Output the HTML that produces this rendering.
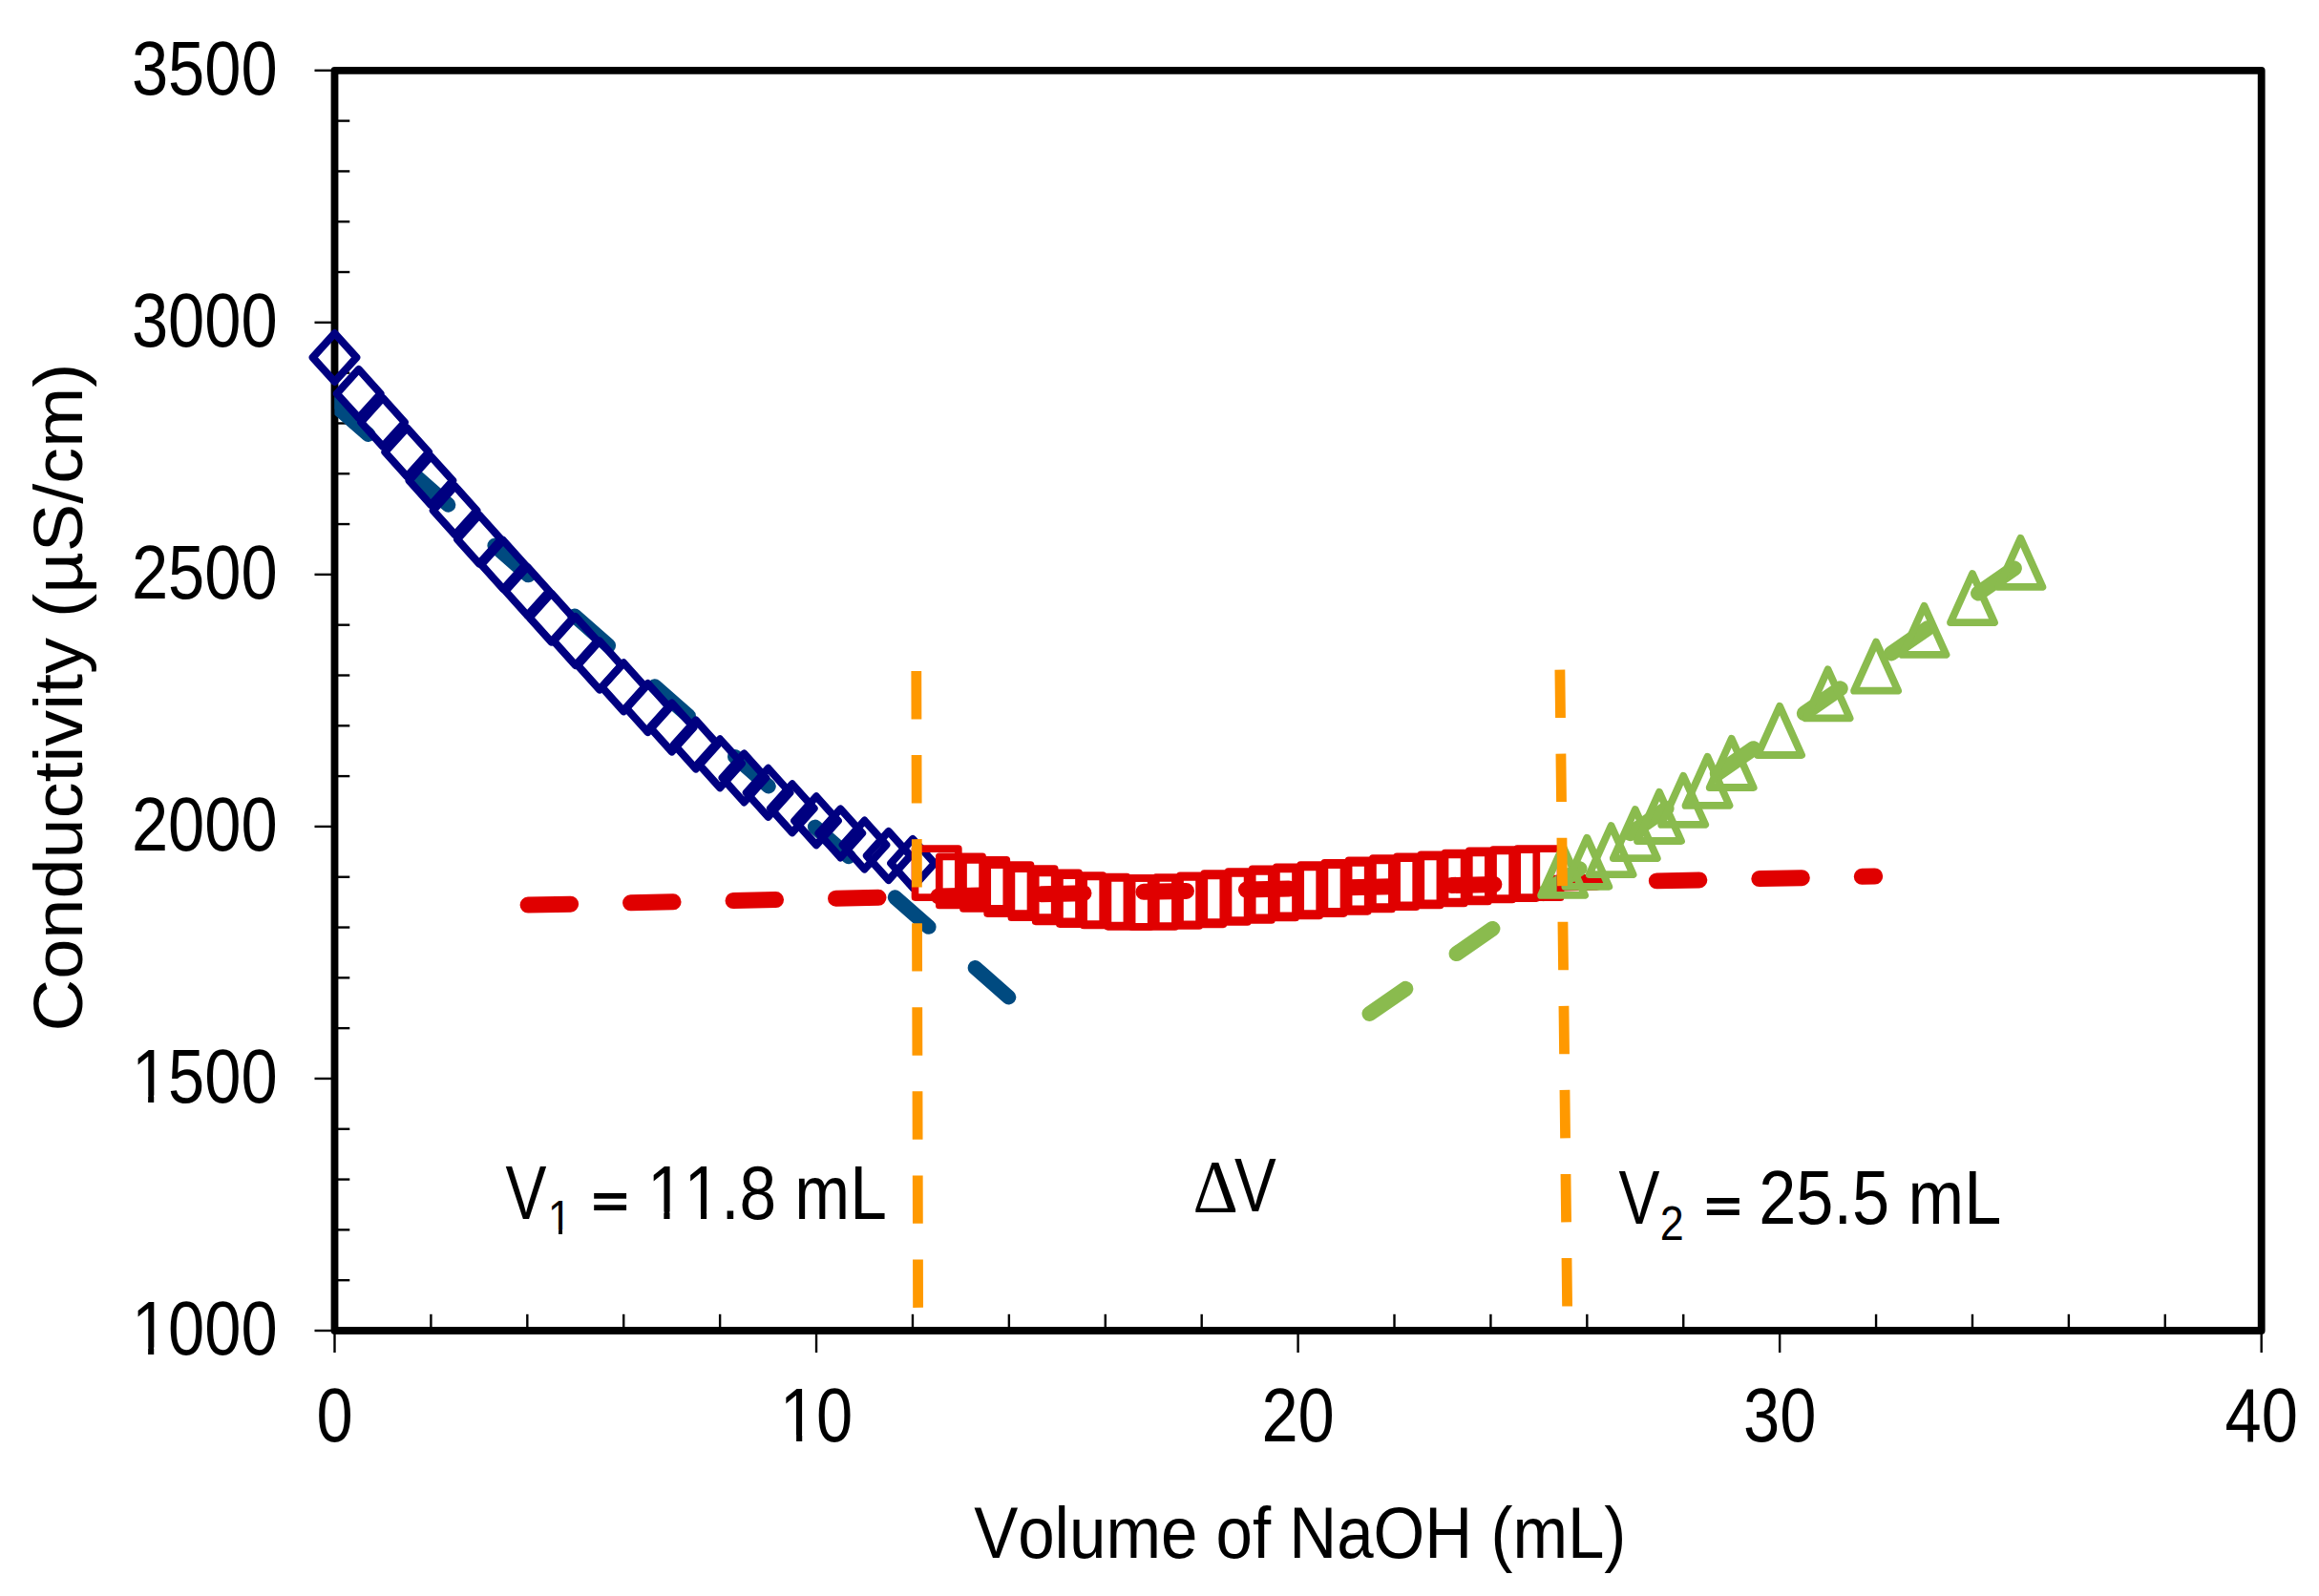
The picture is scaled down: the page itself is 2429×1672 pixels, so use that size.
<!DOCTYPE html>
<html lang="en"><head><meta charset="utf-8"><title>Conductometric titration</title>
<style>html,body{margin:0;padding:0;background:#fff;}body{width:2429px;height:1672px;overflow:hidden;}svg{display:block;position:absolute;left:0;top:0;}text{font-family:"Liberation Sans",sans-serif;fill:#000;font-kerning:none;}.sy{font-family:"Liberation Serif","DejaVu Serif",serif;}</style></head><body>
<svg width="2429" height="1672" viewBox="0 0 2429 1672">
<rect x="0" y="0" width="2429" height="1672" fill="#fff"/>
<g stroke="#000" stroke-width="2.4" fill="none">
<line x1="329.5" y1="1394.00" x2="350.50" y2="1394.00"/>
<line x1="350.50" y1="1341.19" x2="366.3" y2="1341.19"/>
<line x1="350.50" y1="1288.38" x2="366.3" y2="1288.38"/>
<line x1="350.50" y1="1235.58" x2="366.3" y2="1235.58"/>
<line x1="350.50" y1="1182.77" x2="366.3" y2="1182.77"/>
<line x1="329.5" y1="1129.96" x2="350.50" y2="1129.96"/>
<line x1="350.50" y1="1077.15" x2="366.3" y2="1077.15"/>
<line x1="350.50" y1="1024.34" x2="366.3" y2="1024.34"/>
<line x1="350.50" y1="971.54" x2="366.3" y2="971.54"/>
<line x1="350.50" y1="918.73" x2="366.3" y2="918.73"/>
<line x1="329.5" y1="865.92" x2="350.50" y2="865.92"/>
<line x1="350.50" y1="813.11" x2="366.3" y2="813.11"/>
<line x1="350.50" y1="760.30" x2="366.3" y2="760.30"/>
<line x1="350.50" y1="707.50" x2="366.3" y2="707.50"/>
<line x1="350.50" y1="654.69" x2="366.3" y2="654.69"/>
<line x1="329.5" y1="601.88" x2="350.50" y2="601.88"/>
<line x1="350.50" y1="549.07" x2="366.3" y2="549.07"/>
<line x1="350.50" y1="496.26" x2="366.3" y2="496.26"/>
<line x1="350.50" y1="443.46" x2="366.3" y2="443.46"/>
<line x1="350.50" y1="390.65" x2="366.3" y2="390.65"/>
<line x1="329.5" y1="337.84" x2="350.50" y2="337.84"/>
<line x1="350.50" y1="285.03" x2="366.3" y2="285.03"/>
<line x1="350.50" y1="232.22" x2="366.3" y2="232.22"/>
<line x1="350.50" y1="179.42" x2="366.3" y2="179.42"/>
<line x1="350.50" y1="126.61" x2="366.3" y2="126.61"/>
<line x1="329.5" y1="73.80" x2="350.50" y2="73.80"/>
<line x1="350.50" y1="1394.00" x2="350.50" y2="1417"/>
<line x1="451.41" y1="1394.00" x2="451.41" y2="1376.8"/>
<line x1="552.32" y1="1394.00" x2="552.32" y2="1376.8"/>
<line x1="653.23" y1="1394.00" x2="653.23" y2="1376.8"/>
<line x1="754.14" y1="1394.00" x2="754.14" y2="1376.8"/>
<line x1="855.05" y1="1394.00" x2="855.05" y2="1417"/>
<line x1="955.96" y1="1394.00" x2="955.96" y2="1376.8"/>
<line x1="1056.87" y1="1394.00" x2="1056.87" y2="1376.8"/>
<line x1="1157.78" y1="1394.00" x2="1157.78" y2="1376.8"/>
<line x1="1258.69" y1="1394.00" x2="1258.69" y2="1376.8"/>
<line x1="1359.60" y1="1394.00" x2="1359.60" y2="1417"/>
<line x1="1460.51" y1="1394.00" x2="1460.51" y2="1376.8"/>
<line x1="1561.42" y1="1394.00" x2="1561.42" y2="1376.8"/>
<line x1="1662.33" y1="1394.00" x2="1662.33" y2="1376.8"/>
<line x1="1763.24" y1="1394.00" x2="1763.24" y2="1376.8"/>
<line x1="1864.15" y1="1394.00" x2="1864.15" y2="1417"/>
<line x1="1965.06" y1="1394.00" x2="1965.06" y2="1376.8"/>
<line x1="2065.97" y1="1394.00" x2="2065.97" y2="1376.8"/>
<line x1="2166.88" y1="1394.00" x2="2166.88" y2="1376.8"/>
<line x1="2267.79" y1="1394.00" x2="2267.79" y2="1376.8"/>
<line x1="2368.70" y1="1394.00" x2="2368.70" y2="1417"/>
</g>
<rect x="350.50" y="73.80" width="2018.20" height="1320.20" fill="none" stroke="#000" stroke-width="7.8" stroke-linejoin="round"/>
<clipPath id="plot"><rect x="350.4" y="73.8" width="2018.3" height="1320.2"/></clipPath>
<g clip-path="url(#plot)"><line x1="350.4" y1="424.2" x2="1056.6" y2="1044.7" stroke="#004A80" stroke-width="15.5" stroke-linecap="round" stroke-dasharray="47 64.65"/><line x1="331.6" y1="407.7" x2="352.7" y2="426.2" stroke="#004A80" stroke-width="15.5"/></g>
<line x1="553.1" y1="948.1" x2="1963.7" y2="918.0" stroke="#E00000" stroke-width="17" stroke-linecap="round" stroke-dasharray="44.5 63"/>
<line x1="1434.5" y1="1062" x2="2109.9" y2="595.4" stroke="#8ABB4E" stroke-width="16" stroke-linecap="round" stroke-dasharray="46 64.7"/>
<g fill="none" stroke="#000080" stroke-width="8" stroke-linejoin="round">
<path d="M350.5 349.1L373.4 374.5L350.5 399.9L327.6 374.5Z"/>
<path d="M375.7 386.9L398.6 412.4L375.7 437.8L352.8 412.4Z"/>
<path d="M401.0 416.9L423.9 442.4L401.0 467.8L378.1 442.4Z"/>
<path d="M426.2 448.2L449.1 473.6L426.2 499.1L403.3 473.6Z"/>
<path d="M451.4 478.1L474.3 503.5L451.4 529.0L428.5 503.5Z"/>
<path d="M476.6 509.3L499.5 534.8L476.6 560.2L453.7 534.8Z"/>
<path d="M501.9 539.5L524.8 565.0L501.9 590.5L479.0 565.0Z"/>
<path d="M527.1 566.1L550.0 591.6L527.1 617.1L504.2 591.6Z"/>
<path d="M552.3 593.8L575.2 619.2L552.3 644.7L529.4 619.2Z"/>
<path d="M577.5 621.5L600.4 647.0L577.5 672.5L554.6 647.0Z"/>
<path d="M602.8 646.0L625.7 671.5L602.8 697.0L579.9 671.5Z"/>
<path d="M628.0 671.5L650.9 697.0L628.0 722.5L605.1 697.0Z"/>
<path d="M653.2 694.3L676.1 719.8L653.2 745.2L630.3 719.8Z"/>
<path d="M678.5 716.0L701.4 741.5L678.5 767.0L655.6 741.5Z"/>
<path d="M703.7 736.5L726.6 762.0L703.7 787.5L680.8 762.0Z"/>
<path d="M728.9 754.5L751.8 780.0L728.9 805.5L706.0 780.0Z"/>
<path d="M754.1 774.3L777.0 799.8L754.1 825.2L731.2 799.8Z"/>
<path d="M779.4 789.4L802.3 814.9L779.4 840.4L756.5 814.9Z"/>
<path d="M804.6 804.8L827.5 830.3L804.6 855.8L781.7 830.3Z"/>
<path d="M829.8 821.3L852.7 846.8L829.8 872.2L806.9 846.8Z"/>
<path d="M855.0 834.3L877.9 859.8L855.0 885.2L832.1 859.8Z"/>
<path d="M880.3 847.4L903.2 872.9L880.3 898.4L857.4 872.9Z"/>
<path d="M905.5 859.6L928.4 885.1L905.5 910.6L882.6 885.1Z"/>
<path d="M930.7 871.0L953.6 896.5L930.7 922.0L907.8 896.5Z"/>
<path d="M956.0 878.9L978.9 904.4L956.0 929.9L933.1 904.4Z"/>
</g>
<g fill="none" stroke="#E00000" stroke-width="7.7" stroke-linejoin="round">
<rect x="958.5" y="889.1" width="45.3" height="51.0"/>
<rect x="983.8" y="897.4" width="45.3" height="51.0"/>
<rect x="1009.0" y="900.9" width="45.3" height="51.0"/>
<rect x="1034.2" y="906.1" width="45.3" height="51.0"/>
<rect x="1059.4" y="910.2" width="45.3" height="51.0"/>
<rect x="1084.7" y="914.3" width="45.3" height="51.0"/>
<rect x="1109.9" y="917.1" width="45.3" height="51.0"/>
<rect x="1135.1" y="918.5" width="45.3" height="51.0"/>
<rect x="1160.4" y="919.8" width="45.3" height="51.0"/>
<rect x="1185.6" y="919.9" width="45.3" height="51.0"/>
<rect x="1210.8" y="919.0" width="45.3" height="51.0"/>
<rect x="1236.0" y="917.3" width="45.3" height="51.0"/>
<rect x="1261.3" y="915.0" width="45.3" height="51.0"/>
<rect x="1286.5" y="913.0" width="45.3" height="51.0"/>
<rect x="1311.7" y="910.4" width="45.3" height="51.0"/>
<rect x="1336.9" y="908.3" width="45.3" height="51.0"/>
<rect x="1362.2" y="906.1" width="45.3" height="51.0"/>
<rect x="1387.4" y="903.8" width="45.3" height="51.0"/>
<rect x="1412.6" y="901.4" width="45.3" height="51.0"/>
<rect x="1437.9" y="899.2" width="45.3" height="51.0"/>
<rect x="1463.1" y="897.4" width="45.3" height="51.0"/>
<rect x="1488.3" y="895.4" width="45.3" height="51.0"/>
<rect x="1513.5" y="893.5" width="45.3" height="51.0"/>
<rect x="1538.8" y="891.4" width="45.3" height="51.0"/>
<rect x="1564.0" y="890.1" width="45.3" height="51.0"/>
<rect x="1589.2" y="889.2" width="45.3" height="51.0"/>
</g>
<g fill="none" stroke="#8ABB4E" stroke-width="7.8" stroke-linejoin="round">
<path d="M1637.1 886.8L1660.1 937.9L1614.1 937.9Z"/>
<path d="M1662.3 877.7L1685.3 928.8L1639.3 928.8Z"/>
<path d="M1687.6 865.0L1710.6 916.1L1664.6 916.1Z"/>
<path d="M1712.8 848.0L1735.8 899.1L1689.8 899.1Z"/>
<path d="M1738.0 829.9L1761.0 881.0L1715.0 881.0Z"/>
<path d="M1763.2 812.8L1786.2 863.9L1740.2 863.9Z"/>
<path d="M1788.5 792.8L1811.5 843.9L1765.5 843.9Z"/>
<path d="M1813.7 773.9L1836.7 825.0L1790.7 825.0Z"/>
<path d="M1864.1 739.9L1887.1 791.0L1841.1 791.0Z"/>
<path d="M1914.6 701.3L1937.6 752.4L1891.6 752.4Z"/>
<path d="M1965.1 672.6L1988.1 723.7L1942.1 723.7Z"/>
<path d="M2015.5 634.8L2038.5 685.9L1992.5 685.9Z"/>
<path d="M2066.0 601.0L2089.0 652.1L2043.0 652.1Z"/>
<path d="M2116.4 563.8L2139.4 614.9L2093.4 614.9Z"/>
</g>
<line x1="959.8" y1="703.0" x2="961.6" y2="1370" stroke="#FF9900" stroke-width="10.8" stroke-dasharray="50.4 37.67"/>
<line x1="1633.9" y1="701.6" x2="1641.6" y2="1369.5" stroke="#FF9900" stroke-width="10.8" stroke-dasharray="50.4 37.67"/>
<clipPath id="k1"><path clip-rule="evenodd" d="M-254.74 -94.80H79.00V39.50H-254.74ZM-171.89 -7.44H-155.90V7.90H-171.89ZM-148.88 -7.44H-133.31V7.90H-148.88Z"/></clipPath>
<g transform="translate(290.60 1419.00) scale(0.8690 1.0000)"><text x="-175.74" y="0" font-size="79.00" clip-path="url(#k1)">1000</text></g>
<clipPath id="k2"><path clip-rule="evenodd" d="M-254.74 -94.80H79.00V39.50H-254.74ZM-171.89 -7.44H-155.90V7.90H-171.89ZM-148.88 -7.44H-133.31V7.90H-148.88Z"/></clipPath>
<g transform="translate(290.60 1154.96) scale(0.8690 1.0000)"><text x="-175.74" y="0" font-size="79.00" clip-path="url(#k2)">1500</text></g>
<g transform="translate(290.60 890.92) scale(0.8690 1.0000)"><text x="-175.74" y="0" font-size="79.00">2000</text></g>
<g transform="translate(290.60 626.88) scale(0.8690 1.0000)"><text x="-175.74" y="0" font-size="79.00">2500</text></g>
<g transform="translate(290.60 362.84) scale(0.8690 1.0000)"><text x="-175.74" y="0" font-size="79.00">3000</text></g>
<g transform="translate(290.60 98.80) scale(0.8690 1.0000)"><text x="-175.74" y="0" font-size="79.00">3500</text></g>
<g transform="translate(350.50 1510.30) scale(0.8690 1.0000)"><text x="-21.97" y="0" font-size="79.00">0</text></g>
<clipPath id="k3"><path clip-rule="evenodd" d="M-122.94 -94.80H122.94V39.50H-122.94ZM-40.08 -7.44H-24.09V7.90H-40.08ZM-17.07 -7.44H-1.50V7.90H-17.07Z"/></clipPath>
<g transform="translate(855.05 1510.30) scale(0.8690 1.0000)"><text x="-43.94" y="0" font-size="79.00" clip-path="url(#k3)">10</text></g>
<g transform="translate(1359.60 1510.30) scale(0.8690 1.0000)"><text x="-43.94" y="0" font-size="79.00">20</text></g>
<g transform="translate(1864.15 1510.30) scale(0.8690 1.0000)"><text x="-43.94" y="0" font-size="79.00">30</text></g>
<g transform="translate(2368.70 1510.30) scale(0.8690 1.0000)"><text x="-43.94" y="0" font-size="79.00">40</text></g>
<g transform="translate(1361.80 1631.50) scale(0.9090 1.0000)"><text x="-375.88" y="0" font-size="76.00">Volume of NaOH (mL)</text></g>
<text transform="translate(86.4 730.5) rotate(-90) scale(1.037 1)" font-size="73" text-anchor="middle">Conductivity (µS/cm)</text>
<g transform="translate(529.42 1276.80) scale(0.8150 1.0000)"><text x="0.00" y="0" font-size="79.00">V</text></g>
<clipPath id="k4"><path clip-rule="evenodd" d="M-50.50 -60.60H78.59V25.25H-50.50ZM2.47 -4.76H12.69V5.05H2.47ZM17.17 -4.76H27.12V5.05H17.17Z"/></clipPath>
<g transform="translate(573.78 1293.00) scale(0.8900 1.0000)"><text x="0.00" y="0" font-size="50.50" clip-path="url(#k4)">1</text></g>
<g transform="translate(620.44 1275.10) scale(0.8086 0.6226)"><text x="0.00" y="0" font-size="79.00" stroke="#000" stroke-width="3.6" stroke-linejoin="miter">=</text></g>
<clipPath id="k5"><path clip-rule="evenodd" d="M-79.00 -94.80H364.45V39.50H-79.00ZM3.86 -7.44H19.85V7.90H3.86ZM26.87 -7.44H42.43V7.90H26.87ZM47.79 -7.44H63.78V7.90H47.79ZM70.80 -7.44H86.37V7.90H70.80Z"/></clipPath>
<g transform="translate(677.92 1276.80) scale(0.8790 1.0000)"><text x="0.00" y="0" font-size="79.00" clip-path="url(#k5)">11.8 mL</text></g>
<g transform="translate(1695.62 1282.00) scale(0.8150 1.0000)"><text x="0.00" y="0" font-size="79.00">V</text></g>
<g transform="translate(1738.74 1298.60) scale(0.8900 1.0000)"><text x="0.00" y="0" font-size="50.50">2</text></g>
<g transform="translate(1786.34 1280.30) scale(0.8086 0.6226)"><text x="0.00" y="0" font-size="79.00" stroke="#000" stroke-width="3.6" stroke-linejoin="miter">=</text></g>
<g transform="translate(1842.26 1282.00) scale(0.8900 1.0000)"><text x="0.00" y="0" font-size="79.00">25.5 mL</text></g>
<g transform="translate(1249.4 1268.8) scale(0.945 1)"><text class="sy" font-size="78">Δ</text></g>
<g transform="translate(1293.00 1268.80) scale(0.8300 1.0000)"><text x="0.00" y="0" font-size="79.00">V</text></g>
</svg></body></html>
